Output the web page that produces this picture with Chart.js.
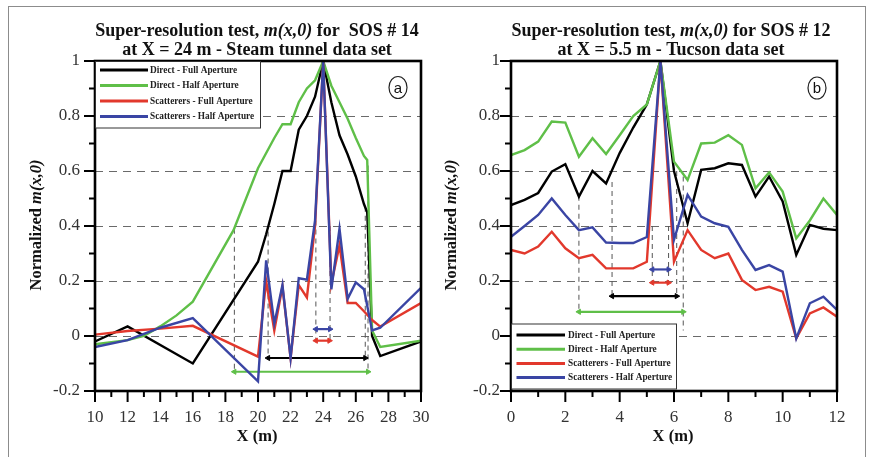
<!DOCTYPE html>
<html>
<head>
<meta charset="utf-8">
<script src="https://cdn.jsdelivr.net/npm/chart.js@4"></script>
<style>
  html, body { margin: 0; padding: 0; background: #fff; }
  #wrap { position: relative; width: 872px; height: 457px; overflow: hidden; background: #fff; }
  #frame { position: absolute; left: 8px; top: 6px; width: 858px; height: 470px;
           border: 1.5px solid #8c8c8c; box-sizing: border-box; }
  canvas { position: absolute; top: 0; }
</style>
</head>
<body>
<div id="wrap">
  <div id="frame"></div>
  <canvas id="steam" width="436" height="457" style="left:0"></canvas>
  <canvas id="tucson" width="436" height="457" style="left:436px"></canvas>
</div>
<script>
// ---- series names and tick labels ----
const seriesNames = ['Direct - Full Aperture', 'Direct - Half Aperture',
                     'Scatterers - Full Aperture', 'Scatterers - Half Aperture'];
const yTickLabels = ['-0.2', '0', '0.2', '0.4', '0.6', '0.8', '1'];

// ---- (a) Steam tunnel data set, SOS # 14 at X = 24 m ----
const steamDirectFullX = [10, 12, 16, 20, 20.5, 21, 21.5, 22, 22.5, 23, 23.5, 24, 24.5, 25, 25.5, 26, 26.5, 26.7, 27, 27.5, 30];
const steamDirectFullY = [-0.02, 0.035, -0.10, 0.27, 0.37, 0.48, 0.60, 0.60, 0.75, 0.80, 0.87, 1.00, 0.85, 0.73, 0.66, 0.58, 0.48, 0.45, 0.00, -0.073, -0.02];

const steamDirectHalfX = [10, 12, 13, 14, 15, 16, 18.5, 19, 20, 21, 21.5, 22, 22.5, 23, 23.5, 24, 24.5, 25, 25.5, 26, 26.5, 26.7, 27, 27.5, 30];
const steamDirectHalfY = [-0.03, -0.015, 0.0, 0.035, 0.075, 0.125, 0.385, 0.46, 0.61, 0.72, 0.77, 0.77, 0.85, 0.90, 0.93, 1.00, 0.91, 0.85, 0.79, 0.72, 0.655, 0.64, 0.02, -0.04, -0.017];

const steamScatFullX = [10, 12, 14, 16, 20, 20.5, 21, 21.5, 22, 22.5, 23, 23.5, 24, 24.5, 25, 25.5, 26, 26.5, 27, 27.5, 30];
const steamScatFullY = [0.005, 0.018, 0.027, 0.037, -0.075, 0.20, 0.02, 0.18, -0.08, 0.185, 0.14, 0.40, 1.00, 0.19, 0.33, 0.12, 0.12, 0.09, 0.058, 0.034, 0.12];

const steamScatHalfX = [10, 12, 14, 16, 20, 20.5, 21, 21.5, 22, 22.5, 23, 23.5, 24, 24.5, 25, 25.5, 26, 26.5, 27, 27.5, 30];
const steamScatHalfY = [-0.04, -0.015, 0.03, 0.065, -0.165, 0.275, 0.045, 0.185, -0.08, 0.21, 0.205, 0.42, 1.00, 0.17, 0.39, 0.135, 0.195, 0.17, 0.02, 0.03, 0.175];

// resolution guides: dashed verticals and width bars (black, green, red, blue)
const steamGuideX      = [18.55, 20.62, 23.55, 24.42, 26.58, 26.75];
const steamGuideTop    = [0.39, 0.38, 0.42, 0.40, 0.47, 0.62];
const steamGuideBottom = [-0.13, -0.08, -0.017, -0.017, -0.08, -0.13];
const steamBarFrom  = [20.62, 18.55, 23.55, 23.55];
const steamBarTo    = [26.58, 26.75, 24.38, 24.42];
const steamBarLevel = [-0.08, -0.13, -0.017, 0.025];

// ---- (b) Tucson data set, SOS # 12 at X = 5.5 m ----
const tucsonX = [0, 0.5, 1, 1.5, 2, 2.5, 3, 3.5, 4, 4.5, 5, 5.5, 6, 6.5, 7, 7.5, 8, 8.5, 9, 9.5, 10, 10.5, 11, 11.5, 12];
const tucsonDirectFull = [0.476, 0.495, 0.52, 0.598, 0.625, 0.507, 0.60, 0.555, 0.665, 0.758, 0.842, 1.00, 0.60, 0.41, 0.604, 0.61, 0.628, 0.622, 0.507, 0.58, 0.489, 0.295, 0.404, 0.39, 0.385];
const tucsonDirectHalf = [0.658, 0.676, 0.707, 0.78, 0.776, 0.652, 0.719, 0.662, 0.73, 0.80, 0.842, 1.00, 0.634, 0.567, 0.70, 0.703, 0.73, 0.695, 0.537, 0.595, 0.525, 0.355, 0.42, 0.50, 0.44];
const tucsonScatFull   = [0.313, 0.30, 0.325, 0.379, 0.319, 0.283, 0.295, 0.246, 0.246, 0.246, 0.27, 1.00, 0.27, 0.385, 0.313, 0.283, 0.30, 0.204, 0.167, 0.179, 0.161, -0.009, 0.082, 0.104, 0.07];
const tucsonScatHalf   = [0.361, 0.40, 0.44, 0.50, 0.44, 0.385, 0.395, 0.34, 0.338, 0.338, 0.36, 1.00, 0.35, 0.513, 0.434, 0.41, 0.397, 0.313, 0.24, 0.258, 0.234, -0.009, 0.119, 0.143, 0.095];

const tucsonGuideX      = [2.5, 3.72, 5.2, 5.8, 6.1, 6.34];
const tucsonGuideTop    = [0.51, 0.56, 0.40, 0.40, 0.60, 0.58];
const tucsonGuideBottom = [0.088, 0.145, 0.194, 0.194, 0.145, 0.02];
const tucsonBarFrom  = [3.72, 2.5, 5.2, 5.2];
const tucsonBarTo    = [6.1, 6.34, 5.8, 5.8];
const tucsonBarLevel = [0.145, 0.088, 0.194, 0.242];

// ---- styling ----
const SERIF = '"Liberation Serif", "Times New Roman", serif';
const SANS = '"Liberation Sans", Arial, sans-serif';
const seriesColors = ['#000000', '#5fbf48', '#e2382c', '#3a45a4'];

function seriesSet(i, xs, ys) {
  return {
    label: seriesNames[i],
    data: xs.map((x, k) => ({ x, y: ys[k] })),
    borderColor: seriesColors[i],
    backgroundColor: seriesColors[i],
    borderWidth: 2.4,
    pointRadius: 0,
    tension: 0,
    order: 4 - i,
    legendRow: true
  };
}
function guideSets(xs, tops, bottoms) {
  return xs.map((x, k) => ({
    data: [{ x, y: tops[k] }, { x, y: bottoms[k] }],
    borderColor: '#555', borderWidth: 1, borderDash: [5, 4],
    pointRadius: 0, order: 20
  }));
}
function barSets(froms, tos, levels) {
  return froms.map((f, k) => ({
    data: [{ x: f, y: levels[k] }, { x: tos[k], y: levels[k] }],
    borderColor: seriesColors[k], backgroundColor: seriesColors[k],
    borderWidth: 2.2, pointStyle: 'triangle', pointRotation: [-90, 90],
    pointRadius: 3, pointBorderWidth: 1, order: 10
  }));
}

function runsWidth(ctx, runs, size) {
  let w = 0;
  runs.forEach(r => { ctx.font = `${r.italic ? 'italic ' : ''}bold ${size}px ${SERIF}`; w += ctx.measureText(r.text).width; });
  return w;
}
function drawRuns(ctx, runs, cx, cy, size) {
  let x = cx - runsWidth(ctx, runs, size) / 2;
  ctx.textAlign = 'left';
  ctx.textBaseline = 'middle';
  runs.forEach(r => {
    ctx.font = `${r.italic ? 'italic ' : ''}bold ${size}px ${SERIF}`;
    ctx.fillText(r.text, x, cy);
    x += ctx.measureText(r.text).width;
  });
}

// axis frame, tick marks, titles, legend and panel letter
function panelDecor(cfg) {
  return {
    id: 'panelDecor',
    afterDraw(chart) {
      const ctx = chart.ctx, a = chart.chartArea, sx = chart.scales.x, sy = chart.scales.y;
      ctx.save();
      ctx.strokeStyle = '#000';
      ctx.lineWidth = 2;
      ctx.setLineDash([]);
      for (let k = 0; k <= 12; k++) {
        const py = sy.getPixelForValue(-0.2 + k * 0.1);
        const len = k % 2 === 0 ? 11 : 6;
        ctx.beginPath(); ctx.moveTo(a.left - len, py); ctx.lineTo(a.left, py); ctx.stroke();
      }
      const n = Math.round(sx.max - sx.min);
      for (let k = 0; k <= n; k++) {
        const px = sx.getPixelForValue(sx.min + k);
        const len = k % 2 === 0 ? 11 : 6;
        ctx.beginPath(); ctx.moveTo(px, a.bottom); ctx.lineTo(px, a.bottom + len); ctx.stroke();
      }
      ctx.lineWidth = 2.6;
      ctx.strokeRect(a.left, a.top, a.right - a.left, a.bottom - a.top);

      // legend
      const L = cfg.legend;
      ctx.fillStyle = '#fff';
      ctx.fillRect(L.x, L.y, L.w, L.h);
      ctx.lineWidth = 1;
      ctx.strokeStyle = '#333';
      ctx.strokeRect(L.x, L.y, L.w, L.h);
      const rows = chart.data.datasets.filter(d => d.legendRow);
      rows.forEach((d, k) => {
        const y = L.rows[k];
        ctx.strokeStyle = d.borderColor;
        ctx.lineWidth = 3;
        ctx.beginPath(); ctx.moveTo(L.lineX0, y); ctx.lineTo(L.lineX1, y); ctx.stroke();
        ctx.fillStyle = '#222';
        ctx.font = `bold 9.3px ${SERIF}`;
        ctx.textAlign = 'left';
        ctx.textBaseline = 'middle';
        ctx.fillText(d.label, L.textX, y + 0.5);
      });

      // titles
      ctx.fillStyle = '#111';
      drawRuns(ctx, cfg.title[0], cfg.titleX, 31, 18);
      drawRuns(ctx, cfg.title[1], cfg.titleX, 50, 18);
      drawRuns(ctx, [{ text: 'X (m)' }], cfg.xTitleX, 437, 16.5);
      ctx.save();
      ctx.translate(cfg.yTitleX, 225);
      ctx.rotate(-Math.PI / 2);
      drawRuns(ctx, [{ text: 'Normalized ' }, { text: 'm(x,0)', italic: true }], 0, 0, 16.5);
      ctx.restore();

      // panel letter
      ctx.strokeStyle = '#222';
      ctx.lineWidth = 1.2;
      ctx.beginPath();
      ctx.ellipse(cfg.letterX, cfg.letterY, 9, 11, 0, 0, Math.PI * 2);
      ctx.stroke();
      ctx.fillStyle = '#111';
      ctx.font = `15px ${SANS}`;
      ctx.textAlign = 'center';
      ctx.textBaseline = 'middle';
      ctx.fillText(cfg.letter, cfg.letterX, cfg.letterY + 1);
      ctx.restore();
    }
  };
}

function makeChart(id, datasets, xMin, xMax, axisWidth, padRight, labelPad, cfg) {
  return new Chart(document.getElementById(id), {
    type: 'line',
    data: { datasets },
    options: {
      responsive: false,
      animation: false,
      devicePixelRatio: 1,
      layout: { padding: { left: 0, right: padRight, top: 61, bottom: 16 } },
      plugins: { legend: { display: false }, tooltip: { enabled: false } },
      scales: {
        x: {
          type: 'linear', min: xMin, max: xMax,
          ticks: { stepSize: 2, color: '#333', font: { family: SERIF, size: 17 }, padding: 16, maxRotation: 0, autoSkip: false },
          grid: { display: false, drawTicks: false },
          border: { display: false },
          afterFit(s) { s.height = 50; s.paddingLeft = 0; s.paddingRight = 0; }
        },
        y: {
          min: -0.2, max: 1,
          ticks: { stepSize: 0.2, callback: (v, i) => yTickLabels[i], color: '#333',
                   font: { family: SERIF, size: 17 }, padding: labelPad },
          grid: {
            drawTicks: false, lineWidth: 1,
            color: c => (c.tick && c.tick.value > -0.19 && c.tick.value < 0.99) ? '#6a6a6a' : 'rgba(0,0,0,0)'
          },
          border: { display: false, dash: [8, 6] },
          afterFit(s) { s.width = axisWidth; }
        }
      }
    },
    plugins: [panelDecor(cfg)]
  });
}

makeChart('steam', [
  seriesSet(0, steamDirectFullX, steamDirectFullY),
  seriesSet(1, steamDirectHalfX, steamDirectHalfY),
  seriesSet(2, steamScatFullX, steamScatFullY),
  seriesSet(3, steamScatHalfX, steamScatHalfY),
  ...barSets(steamBarFrom, steamBarTo, steamBarLevel),
  ...guideSets(steamGuideX, steamGuideTop, steamGuideBottom)
], 10, 30, 95, 15, 15, {
  title: [
    [{ text: 'Super-resolution test, ' }, { text: 'm(x,0)', italic: true }, { text: ' for  SOS # 14' }],
    [{ text: 'at X = 24 m - Steam tunnel data set' }]
  ],
  titleX: 257, xTitleX: 257, yTitleX: 37,
  letter: 'a', letterX: 398, letterY: 87.5,
  legend: { x: 95.5, y: 61.5, w: 165, h: 66.5, rows: [70, 85.5, 101, 116.5], lineX0: 100, lineX1: 148, textX: 150 }
});

makeChart('tucson', [
  seriesSet(0, tucsonX, tucsonDirectFull),
  seriesSet(1, tucsonX, tucsonDirectHalf),
  seriesSet(2, tucsonX, tucsonScatFull),
  seriesSet(3, tucsonX, tucsonScatHalf),
  ...barSets(tucsonBarFrom, tucsonBarTo, tucsonBarLevel),
  ...guideSets(tucsonGuideX, tucsonGuideTop, tucsonGuideBottom)
], 0, 12, 75, 35, 11, {
  title: [
    [{ text: 'Super-resolution test, ' }, { text: 'm(x,0)', italic: true }, { text: ' for SOS # 12' }],
    [{ text: 'at X = 5.5 m - Tucson data set' }]
  ],
  titleX: 235, xTitleX: 237, yTitleX: 16,
  letter: 'b', letterX: 381, letterY: 88,
  legend: { x: 75.5, y: 324, w: 165, h: 65, rows: [335, 349.2, 363.4, 377.6], lineX0: 80.5, lineX1: 129, textX: 132 }
});
</script>
</body>
</html>
